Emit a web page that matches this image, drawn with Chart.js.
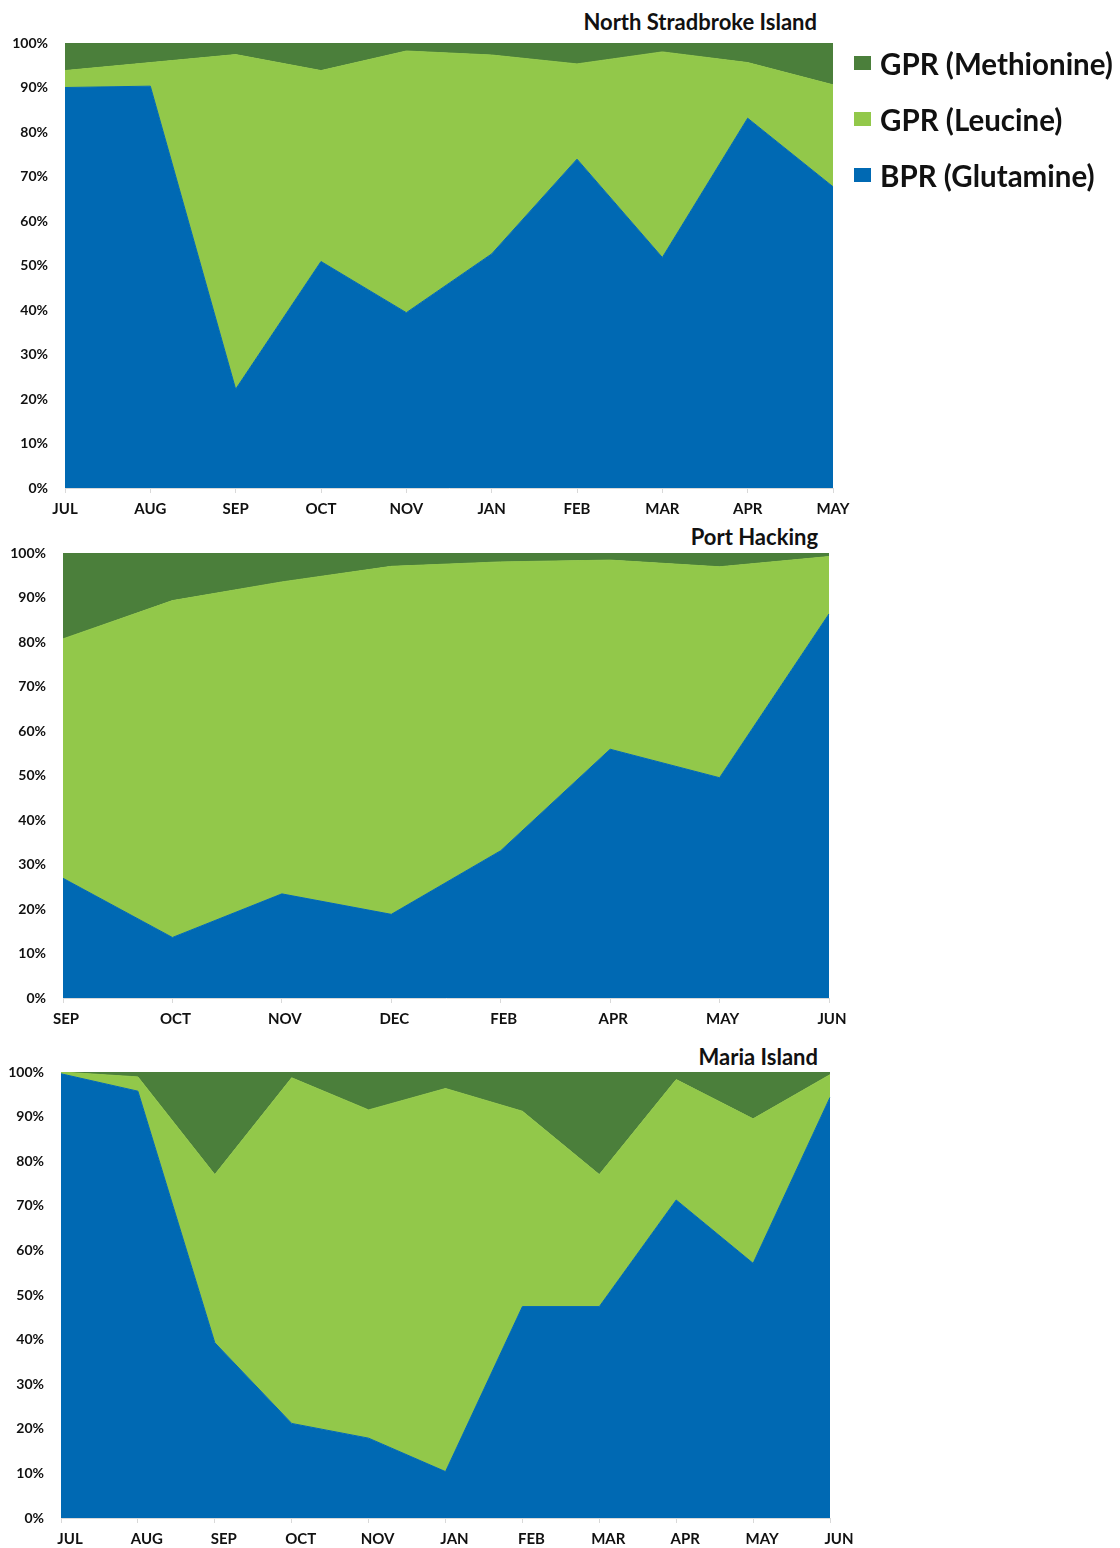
<!DOCTYPE html>
<html>
<head>
<meta charset="utf-8">
<script src="https://cdn.jsdelivr.net/npm/chart.js@4"></script>
<style>
  body{margin:0;background:#fff;font-family:Lato,"Open Sans",sans-serif;}
  #page{position:relative;width:1120px;height:1548px;overflow:hidden;}
  .box{position:absolute;left:0;width:860px;}
  .ttl{position:absolute;font:bold 22px Lato,sans-serif;color:#111;line-height:26px;white-space:nowrap;}
  #legend{position:absolute;left:854px;top:49px;}
  .li{display:flex;align-items:center;height:28px;margin-bottom:28px;font:bold 29.5px Lato,sans-serif;color:#111;white-space:nowrap;}
  .sw{width:17px;height:14px;margin-right:9px;flex:none;}
</style>
</head>
<body>
<div id="page">
  <div class="ttl" style="right:303px;top:9px">North Stradbroke Island</div>
  <div class="ttl" style="right:302px;top:524px">Port Hacking</div>
  <div class="ttl" style="right:302px;top:1044px">Maria Island</div>
  <div class="box" style="top:17px;height:508px"><canvas id="c1"></canvas></div>
  <div class="box" style="top:527px;height:508px"><canvas id="c2"></canvas></div>
  <div class="box" style="top:1046px;height:502px"><canvas id="c3"></canvas></div>
  <div id="legend"></div>
</div>
<script>
// series names and colours
const seriesNames = ['BPR (Glutamine)', 'GPR (Leucine)', 'GPR (Methionine)'];
const seriesColors = ['#0069b3', '#92c84a', '#4b7f3b'];

// North Stradbroke Island (% of total)
const nsiMonths = ['JUL','AUG','SEP','OCT','NOV','JAN','FEB','MAR','APR','MAY'];
const nsiGlutamine  = [90.0, 90.3, 22.2, 50.9, 39.4, 52.6, 73.9, 51.8, 83.1, 67.7];
const nsiLeucine    = [3.8, 5.3, 75.2, 42.9, 58.8, 44.7, 21.4, 46.2, 12.5, 22.9];
const nsiMethionine = [6.2, 4.4, 2.6, 6.2, 1.8, 2.7, 4.7, 2.0, 4.4, 9.4];

// Port Hacking
const phMonths = ['SEP','OCT','NOV','DEC','FEB','APR','MAY','JUN'];
const phGlutamine  = [26.9, 13.6, 23.4, 18.8, 33.1, 55.9, 49.5, 86.3];
const phLeucine    = [53.8, 75.7, 70.1, 78.2, 64.9, 42.5, 47.4, 12.9];
const phMethionine = [19.3, 10.7, 6.5, 3.0, 2.0, 1.6, 3.1, 0.8];

// Maria Island
const miMonths = ['JUL','AUG','SEP','OCT','NOV','JAN','FEB','MAR','APR','MAY','JUN'];
const miGlutamine  = [99.6, 95.7, 39.3, 21.2, 17.9, 10.4, 47.4, 47.4, 71.3, 57.1, 94.3];
const miLeucine    = [0.4, 3.2, 37.7, 77.5, 73.6, 85.9, 43.8, 29.6, 27.0, 32.4, 5.1];
const miMethionine = [0.0, 1.1, 23.0, 1.3, 8.5, 3.7, 8.8, 23.0, 1.7, 10.5, 0.6];

const yTicks = [0,10,20,30,40,50,60,70,80,90,100];

function makeChart(id, labels, series, opts){
  const datasets = series.map((vals, i) => ({
    label: seriesNames[i],
    data: vals,
    backgroundColor: seriesColors[i],
    borderColor: seriesColors[i],
    borderWidth: 1,
    pointRadius: 0,
    pointHoverRadius: 0,
    tension: 0,
    fill: i === 0 ? 'origin' : '-1'
  }));
  return new Chart(document.getElementById(id), {
    type: 'line',
    data: {labels, datasets},
    options: {
      responsive: true,
      maintainAspectRatio: false,
      animation: false,
      layout: {padding: {top: 26, right: opts.right, left: 0, bottom: 0}},
      plugins: {legend: {display: false}, tooltip: {enabled: false}},
      scales: {
        x: {
          type: 'category',
          offset: false,
          grid: {display: true, drawOnChartArea: false, drawTicks: true, tickLength: 5, color: '#d9d9d9'},
          border: {display: true, color: '#d9d9d9'},
          ticks: {font: {family: 'Lato', weight: 'bold', size: 15}, color: '#111', padding: 7,
                  maxRotation: 0, autoSkip: false, labelOffset: opts.lo},
          afterFit: s => { s.height = opts.xh; }
        },
        y: {
          stacked: true,
          min: 0, max: 100,
          afterBuildTicks: s => { s.ticks = yTicks.map(v => ({value: v})); },
          grid: {display: false, drawTicks: false},
          border: {display: false},
          ticks: {font: {family: 'Lato', weight: 'bold', size: 14}, color: '#111', padding: 17,
                  callback: v => v + '%'},
          afterFit: s => { s.width = opts.yw; }
        }
      }
    }
  });
}

makeChart('c1', nsiMonths, [nsiGlutamine, nsiLeucine, nsiMethionine], {right: 27, xh: 37, yw: 65, lo: 0});
makeChart('c2', phMonths, [phGlutamine, phLeucine, phMethionine], {right: 31, xh: 37, yw: 63, lo: 3});
makeChart('c3', miMonths, [miGlutamine, miLeucine, miMethionine], {right: 30, xh: 30, yw: 61, lo: 9});

// legend (top series first, as in the original)
const lg = document.getElementById('legend');
for(let i = seriesNames.length - 1; i >= 0; i--){
  const row = document.createElement('div');
  row.className = 'li';
  const sw = document.createElement('span');
  sw.className = 'sw';
  sw.style.background = seriesColors[i];
  row.appendChild(sw);
  row.appendChild(document.createTextNode(seriesNames[i]));
  lg.appendChild(row);
}
</script>
</body>
</html>
